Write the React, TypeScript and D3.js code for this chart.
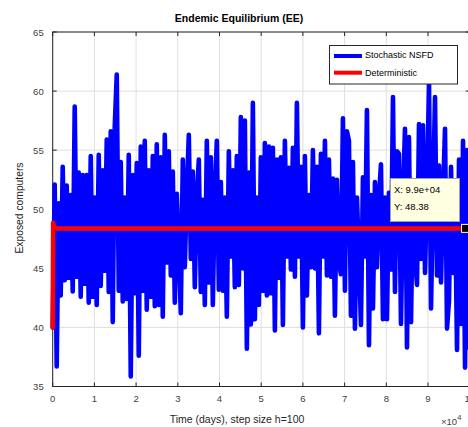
import React from "react";
import * as d3 from "d3";

// ---- data ----
const stochStepDays = 480;
const stochValues: number[] = [
  40, 52.1, 36.7, 50.5, 42.7, 53.6, 44.0, 52.0, 44.2, 51.2,
  43.05, 58.7, 44.3, 53.1, 42.6, 52.9, 43.7, 52.9, 42.1, 54.5,
  42.6, 51.0, 41.9, 54.6, 43.5, 53.3, 44.8, 55.9, 43.0, 56.6,
  40.45, 57.0, 61.4, 43.1, 54.0, 42.2, 51.0, 42.4, 54.6, 35.85,
  52.9, 42.9, 53.9, 37.6, 55.3, 43.1, 55.8, 41.5, 53.3, 42.6,
  54.5, 41.8, 55.5, 41.9, 54.4, 40.9, 56.3, 45.5, 54.9, 44.4,
  53.2, 42.1, 51.3, 46.5, 41.2, 54.2, 45.1, 51.5, 56.3, 45.8,
  53.2, 43.4, 51.0, 54.2, 43.0, 50.8, 41.9, 55.8, 43.8, 54.4,
  41.9, 51.4, 55.8, 43.2, 52.3, 43.1, 51.0, 40.9, 54.9, 46.0,
  53.3, 43.4, 54.5, 43.6, 57.8, 45.0, 57.5, 38.2, 53.1, 40.25,
  59.0, 40.7, 51.0, 41.9, 54.4, 43.1, 55.6, 42.7, 55.3, 42.9,
  55.2, 39.75, 54.2, 44.2, 54.4, 40.2, 55.8, 46.0, 53.5, 44.9,
  55.2, 44.3, 59.0, 46.0, 53.6, 40.0, 54.5, 42.7, 51.2, 45.1,
  55.0, 45.0, 53.6, 39.5, 54.7, 46.0, 55.8, 44.4, 54.2, 44.3,
  52.6, 41.0, 52.5, 45.5, 44.5, 57.7, 43.1, 56.6, 55.8, 41.0,
  54.0, 39.9, 51.0, 46.0, 40.2, 52.7, 46.0, 58.4, 38.5, 51.2,
  41.6, 52.3, 45.1, 51.0, 53.8, 40.7, 51.0, 40.7, 51.4, 44.9,
  59.5, 43.0, 54.9, 54.7, 40.3, 51.0, 56.8, 38.3, 56.1, 40.45,
  51.3, 46.0, 43.6, 57.2, 45.8, 57.1, 44.6, 51.5, 60.7, 41.6,
  51.0, 59.5, 44.4, 53.7, 43.8, 51.2, 56.8, 39.9, 42.3, 53.6,
  44.6, 51.0, 38.1, 54.2, 40.3, 55.8, 36.6, 55.0, 38.3,
];
const detTimes: number[] = [0, 100, 300, 600, 1000, 100000];
const detValues: number[] = [40, 48.85, 48.6, 48.45, 48.38, 48.38];

const xTicks: number[] = [0, 1, 2, 3, 4, 5, 6, 7, 8, 9, 10];
const yTicks: number[] = [35, 40, 45, 50, 55, 60, 65];

const titleText = "Endemic Equilibrium (EE)";
const xLabel = "Time (days), step size h=100";
const yLabel = "Exposed computers";
const legendLabels = ["Stochastic NSFD", "Deterministic"];
const tipX = 99000;
const tipY = 48.38;

const W = 468;
const H = 427;
const FONT = "'Liberation Sans', Arial, Helvetica, sans-serif";

export default function App() {
  const x = d3.scaleLinear().domain([0, 100000]).range([52.7, 469.7]);
  const y = d3.scaleLinear().domain([35, 65]).range([386.5, 32]);
  const [x0, x1] = x.range();
  const [y0, y1] = y.range();

  const stochPts: [number, number][] = stochValues.map((v, i) => [i * stochStepDays, v]);
  const detPts: [number, number][] = detTimes.map((t, i) => [t, detValues[i]]);
  const line = d3
    .line<[number, number]>()
    .x((d) => x(d[0]))
    .y((d) => y(d[1]));

  const axisColor = "#262626";
  const gridColor = "#dfdfdf";
  const tickLen = 4;

  return (
    <svg
      width={W}
      height={H}
      style={{ position: "absolute", left: 0, top: 0, background: "#fff" }}
      fontFamily={FONT}
    >
      <rect x={0} y={0} width={W} height={H} fill="#fff" />
      {/* grid */}
      {xTicks.map((t) => (
        <line key={"gx" + t} x1={x(t * 1e4)} x2={x(t * 1e4)} y1={y1} y2={y0} stroke={gridColor} strokeWidth={1} />
      ))}
      {yTicks.map((t) => (
        <line key={"gy" + t} x1={x0} x2={x1} y1={y(t)} y2={y(t)} stroke={gridColor} strokeWidth={1} />
      ))}
      {/* axes box */}
      <rect x={x0} y={y1} width={x1 - x0} height={y0 - y1} fill="none" stroke={axisColor} strokeWidth={1} />
      {xTicks.map((t) => (
        <g key={"tx" + t}>
          <line x1={x(t * 1e4)} x2={x(t * 1e4)} y1={y0} y2={y0 - tickLen} stroke={axisColor} />
          <line x1={x(t * 1e4)} x2={x(t * 1e4)} y1={y1} y2={y1 + tickLen} stroke={axisColor} />
          <text x={x(t * 1e4)} y={y0 + 15} textAnchor="middle" fontSize={9.5} fill="#404040">
            {t}
          </text>
        </g>
      ))}
      {yTicks.map((t) => (
        <g key={"ty" + t}>
          <line x1={x0} x2={x0 + tickLen} y1={y(t)} y2={y(t)} stroke={axisColor} />
          <line x1={x1} x2={x1 - tickLen} y1={y(t)} y2={y(t)} stroke={axisColor} />
          <text x={x0 - 9} y={y(t) + 3.5} textAnchor="end" fontSize={9.5} fill="#404040">
            {t}
          </text>
        </g>
      ))}
      {/* data */}
      <path
        d={line(stochPts) || ""}
        fill="none"
        stroke="#0000ff"
        strokeWidth={4.6}
        strokeLinejoin="round"
        strokeLinecap="round"
      />
      <path
        d={line(detPts) || ""}
        fill="none"
        stroke="#ff0000"
        strokeWidth={4.5}
        strokeLinejoin="round"
        strokeLinecap="round"
      />
      {/* exponent label */}
      <text x={441} y={425} fontSize={9.5} fill="#404040">
        ×10
        <tspan dy={-5} fontSize={7.5}>
          4
        </tspan>
      </text>
      {/* titles */}
      <text x={239} y={22} textAnchor="middle" fontSize={10.5} fontWeight="bold" fill="#000">
        {titleText}
      </text>
      <text x={237} y={423} textAnchor="middle" fontSize={10.5} fill="#262626">
        {xLabel}
      </text>
      <text
        transform={`translate(23,208) rotate(-90)`}
        textAnchor="middle"
        fontSize={10.3}
        fill="#262626"
      >
        {yLabel}
      </text>
      {/* legend */}
      <g>
        <rect x={329.5} y={45.5} width={128} height={38.5} fill="#fff" stroke={axisColor} strokeWidth={1} />
        <line x1={334} x2={362} y1={56} y2={56} stroke="#0000ff" strokeWidth={4} />
        <line x1={334} x2={362} y1={72.7} y2={72.7} stroke="#ff0000" strokeWidth={4} />
        <text x={365} y={57.5} fontSize={9} fill="#000">
          {legendLabels[0]}
        </text>
        <text x={365} y={75.5} fontSize={9} fill="#000">
          {legendLabels[1]}
        </text>
      </g>
      {/* data tip */}
      <g>
        <rect x={x(tipX) - 4} y={y(tipY) - 4} width={8} height={8} fill="#000" stroke="#fff" strokeWidth={1} />
        <rect x={390.5} y={178.5} width={69} height={43} fill="#ffffe1" stroke="#a0a0a0" strokeWidth={1} />
        <text x={394} y={193} fontSize={9.5} fill="#000">
          X: 9.9e+04
        </text>
        <text x={394} y={210} fontSize={9.5} fill="#000">
          {"Y: " + tipY.toFixed(2)}
        </text>
      </g>
    </svg>
  );
}
